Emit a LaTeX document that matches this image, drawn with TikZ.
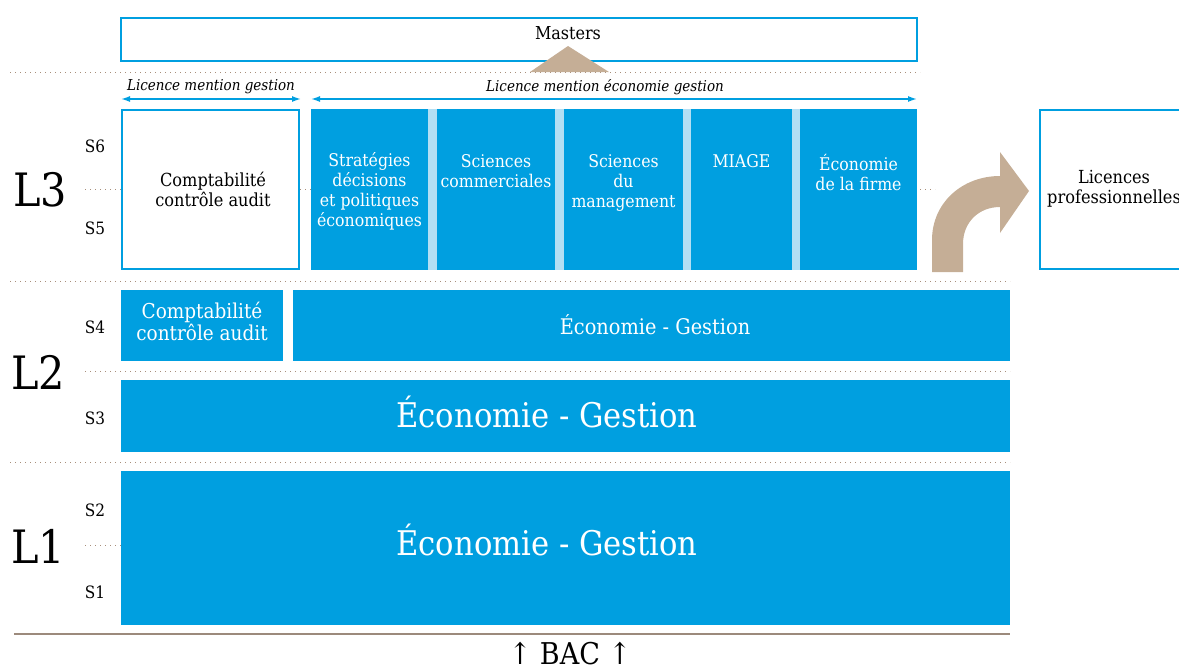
\documentclass[tikz,border=0pt]{standalone}
\usepackage{fontspec}
\setmainfont{DejaVu Serif Condensed}
\usetikzlibrary{arrows.meta}
\definecolor{ublue}{HTML}{009FE0}
\definecolor{lblue}{HTML}{B3DFF4}
\definecolor{beige}{HTML}{C5AE96}
\definecolor{dotc}{HTML}{A88E7A}
\definecolor{basec}{HTML}{9C8A7C}
\newcommand{\fs}[2]{\fontsize{#1}{#2}\selectfont}
\tikzset{
  dotline/.style={draw=dotc, line width=1pt, dash pattern=on 1pt off 4pt},
  outbox/.style={draw=ublue, line width=2.5pt, fill=white, inner sep=0pt},
  bluebox/.style={fill=ublue, inner sep=0pt},
  wtext/.style={text=white, align=center, inner sep=0pt},
  btext/.style={text=black, align=center, inner sep=0pt},
  semlabel/.style={text=black, inner sep=0pt, font=\fs{17}{19}},
  yearlabel/.style={text=black, inner sep=0pt, font=\fs{46}{50}},
  mention/.style={draw=ublue, line width=1.5pt, {Latex[length=9pt,width=6pt]}-{Latex[length=9pt,width=6pt]}},
}
\begin{document}
\begin{tikzpicture}[x=1pt,y=-1pt]
\useasboundingbox (0,0) rectangle (1179,670);
% dotted guide lines
\draw[dotline] (10,72) -- (920,72);
\draw[dotline] (85,189) -- (935,189);
\draw[dotline] (10,281) -- (1010,281);
\draw[dotline] (85,371) -- (1010,371);
\draw[dotline] (10,462) -- (1010,462);
\draw[dotline] (85,545) -- (121,545);
% Masters
\node[outbox, minimum width=796pt, minimum height=43pt] (masters) at (519,39.5) {};
\node[btext, font=\fs{17.8}{20}] (masterst) at (568,33) {Masters};
\fill[beige] (530,72) -- (568,46) -- (609,72) -- cycle;
% mentions
\coordinate (mg1) at (121,99); \coordinate (mg2) at (301,99);
\coordinate (me1) at (311,99); \coordinate (me2) at (917,99);
\draw[mention] (mg1) -- (mg2);
\draw[mention] (me1) -- (me2);
\node[btext, font=\itshape\fs{15}{17}] (mgt) at (211,87) {Licence mention gestion};
\node[btext, font=\itshape\fs{15}{17}] (met) at (605,87) {Licence mention économie gestion};
% L3
\node[outbox, minimum width=177pt, minimum height=159pt] (cca3) at (210.5,189.5) {};
\node[btext, font=\fs{18}{20}] (cca3t) at (213,189) {Comptabilité\\contrôle audit};
\fill[lblue] (311,109) rectangle (917,270);
\node[bluebox, minimum width=117pt, minimum height=161pt] (b1) at (369.5,189.5) {};
\node[bluebox, minimum width=118pt, minimum height=161pt] (b2) at (496,189.5) {};
\node[bluebox, minimum width=119pt, minimum height=161pt] (b3) at (623.5,189.5) {};
\node[bluebox, minimum width=101pt, minimum height=161pt] (b4) at (741.5,189.5) {};
\node[bluebox, minimum width=117pt, minimum height=161pt] (b5) at (858.5,189.5) {};
\node[wtext, anchor=north, font=\fs{17.5}{20}] (b1t) at (369.5,152) {Stratégies\\décisions\\et politiques\\économiques};
\node[wtext, anchor=north, font=\fs{17.5}{20}] (b2t) at (496,154) {Sciences\\commerciales};
\node[wtext, anchor=north, font=\fs{17.5}{20}] (b3t) at (623.5,154) {Sciences\\du\\management};
\node[wtext, anchor=north, font=\fs{17.5}{20}] (b4t) at (741.5,154) {MIAGE};
\node[wtext, anchor=north, font=\fs{17.5}{20}] (b5t) at (858.5,154) {Économie\\de la firme};
% curved arrow to licences pro
\fill[beige] (932,272) -- (932,240) .. controls (932,203) and (962,176) .. (1000,176) -- (1000,152) -- (1029,191) -- (1000,233) -- (1000,207) .. controls (979,207) and (963,222) .. (963,244) -- (963,272) -- cycle;
\node[outbox, minimum width=148pt, minimum height=159pt] (licpro) at (1114,189.5) {};
\node[btext, font=\fs{18}{20}] (licprot) at (1114,189) {Licences\\professionnelles};
% L2
\node[bluebox, minimum width=162pt, minimum height=71pt] (cca2) at (202,325.5) {};
\node[wtext, font=\fs{20.5}{22}] (cca2t) at (202,321) {Comptabilité\\contrôle audit};
\node[bluebox, minimum width=717pt, minimum height=71pt] (eg4) at (651.5,325.5) {};
\node[wtext, font=\fs{21.5}{24}] (eg4t) at (655,325) {Économie - Gestion};
\node[bluebox, minimum width=889pt, minimum height=72pt] (eg3) at (565.5,416) {};
\node[wtext, font=\fs{34}{38}] (eg3t) at (547,412) {Économie - Gestion};
% L1
\node[bluebox, minimum width=889pt, minimum height=154pt] (eg1) at (565.5,548) {};
\node[wtext, font=\fs{34}{38}] (eg1t) at (547,540) {Économie - Gestion};
% semester and year labels
\node[semlabel] (s6) at (95,146) {S6};
\node[semlabel] (s5) at (95,228) {S5};
\node[semlabel] (s4) at (95,327) {S4};
\node[semlabel] (s3) at (95,418) {S3};
\node[semlabel] (s2) at (95,510) {S2};
\node[semlabel] (s1) at (95,592) {S1};
\node[yearlabel] (l3) at (40,190) {L3};
\node[yearlabel] (l2) at (38,372) {L2};
\node[yearlabel] (l1) at (38,546) {L1};
% base line and BAC
\draw[basec, line width=2.5pt] (14,634) -- (1010,634);
\node[btext, font=\fs{30}{34}] (bac) at (570,654) {↑ BAC ↑};
\end{tikzpicture}
\end{document}
